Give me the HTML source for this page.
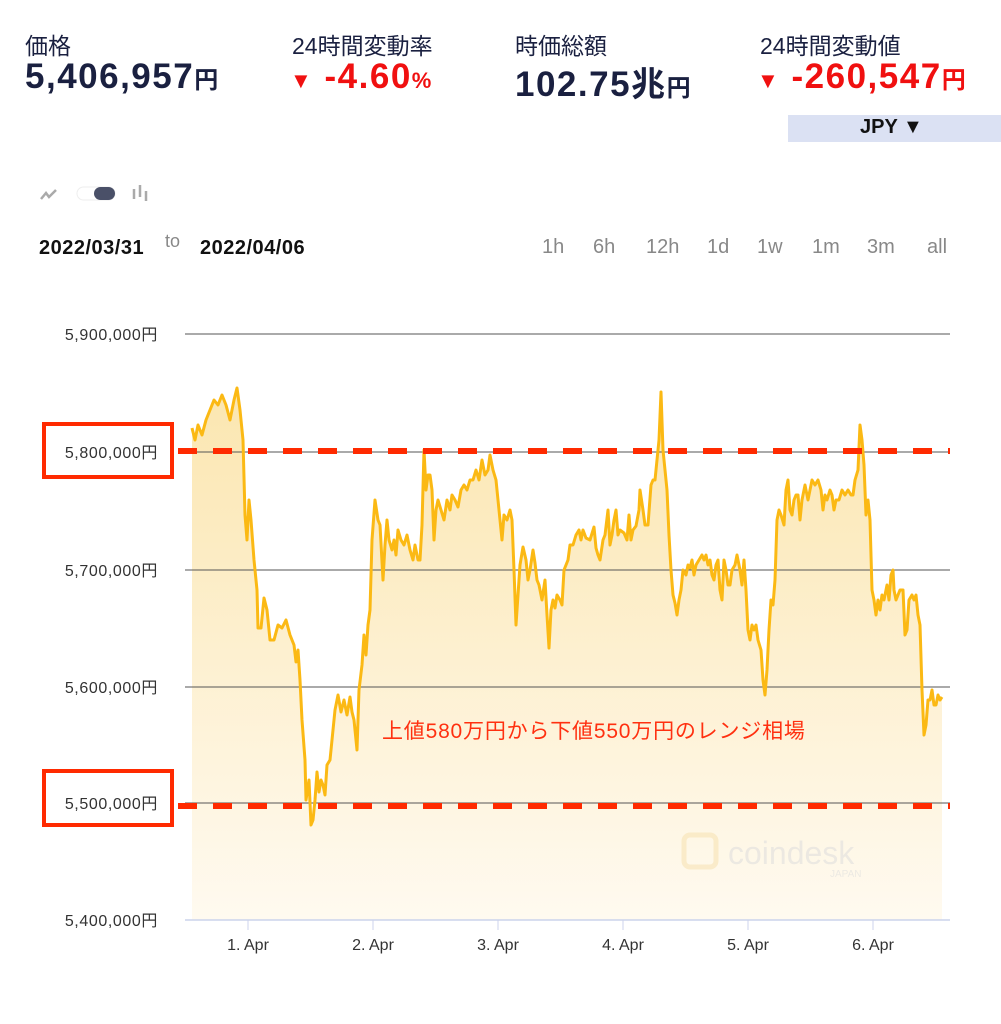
<!DOCTYPE html>
<html><head><meta charset="utf-8"><style>
body{margin:0;width:1001px;height:1024px;background:#fff;font-family:"Liberation Sans","Noto Sans CJK JP",sans-serif;overflow:hidden;position:relative}
.a{position:absolute;white-space:nowrap}
.lb{font-size:23px;color:#1a2040}
.v{font-size:35px;font-weight:bold;color:#1a2040;letter-spacing:1.5px}
.r{color:#f01010}
.sm{font-size:24px}
.tf{font-size:20px;color:#888}
</style></head><body>
<div class="a lb" style="left:25px;top:27px">価格</div>
<div class="a lb" style="left:292px;top:27px">24時間変動率</div>
<div class="a lb" style="left:515px;top:27px">時価総額</div>
<div class="a lb" style="left:760px;top:27px">24時間変動値</div>
<div class="a v" style="left:25px;top:57px">5,406,957<span class="sm">円</span></div>
<div class="a v r" style="left:290px;top:57px"><span style="font-size:22px">▼</span> -4.60<span style="font-size:22px">%</span></div>
<div class="a v" style="left:515px;top:57px">102.75<span style="font-size:34px">兆</span><span class="sm">円</span></div>
<div class="a v r" style="left:757px;top:57px"><span style="font-size:22px">▼</span> -260,547<span class="sm">円</span></div>
<div class="a" style="left:788px;top:115px;width:213px;height:27px;background:#dbe1f3"></div>
<div class="a" style="left:860px;top:116px;font-size:20px;font-weight:bold;color:#111">JPY ▼</div>
<svg class="a" style="left:38px;top:182px" width="120" height="24"><path d="M3 17 L8 11 L11 15 L18 8" stroke="#aaa" stroke-width="2.5" fill="none"/><rect x="39" y="5" width="38" height="13" rx="6.5" fill="#fff" stroke="#eee"/><rect x="56" y="5" width="21" height="13" rx="6.5" fill="#4a5068"/><g stroke="#aaa" stroke-width="2.5"><line x1="96" y1="7" x2="96" y2="17"/><line x1="102" y1="3" x2="102" y2="15"/><line x1="108" y1="9" x2="108" y2="19"/></g></svg>
<div class="a" style="left:39px;top:237px;font-size:20px;font-weight:bold;color:#111;letter-spacing:0.5px">2022/03/31</div>
<div class="a" style="left:165px;top:231px;font-size:18px;color:#888">to</div>
<div class="a" style="left:200px;top:237px;font-size:20px;font-weight:bold;color:#111;letter-spacing:0.5px">2022/04/06</div>
<div class="a tf" style="left:542px;top:236px">1h</div>
<div class="a tf" style="left:593px;top:236px">6h</div>
<div class="a tf" style="left:646px;top:236px">12h</div>
<div class="a tf" style="left:707px;top:236px">1d</div>
<div class="a tf" style="left:757px;top:236px">1w</div>
<div class="a tf" style="left:812px;top:236px">1m</div>
<div class="a tf" style="left:867px;top:236px">3m</div>
<div class="a tf" style="left:927px;top:236px">all</div>
<svg class="a" style="left:0;top:0" width="1001" height="1024">
<defs><linearGradient id="g" x1="0" y1="0" x2="0" y2="1"><stop offset="0" stop-color="#fbe6b0"/><stop offset="1" stop-color="#fffaf0"/></linearGradient><filter id="bl"><feGaussianBlur stdDeviation="2"/></filter></defs>
<g font-size="16" fill="#333" text-anchor="end" letter-spacing="0.6">
<text x="158" y="340">5,900,000円</text><text x="158" y="458">5,800,000円</text><text x="158" y="576">5,700,000円</text><text x="158" y="693">5,600,000円</text><text x="158" y="809">5,500,000円</text><text x="158" y="926">5,400,000円</text></g>
<path id="p" d="M192,428 L195,440 198,425 202,435 206,420 210,410 214,400 218,405 222,395 226,405 230,420 234,400 237,388 240,410 243,440 245,515 247,540 249,500 251,520 254,560 257,590 258,628 261,628 264,598 267,610 270,640 274,640 278,625 282,628 286,620 290,635 294,645 296,662 298,650 300,680 302,720 305,760 306,800 309,780 311,825 313,820 315,800 317,772 319,792 321,780 323,785 325,795 327,765 330,760 332,740 335,710 338,695 341,712 344,700 347,715 350,697 352,712 354,720 357,750 359,690 362,665 364,635 366,655 368,625 370,610 372,540 375,500 378,520 380,525 383,580 385,545 387,520 389,540 392,550 394,540 396,555 398,530 401,540 404,545 407,535 410,550 413,560 415,545 418,560 420,560 422,525 424,450 426,490 428,475 430,475 432,490 434,540 436,510 438,500 441,510 444,520 447,500 450,510 452,495 455,500 458,507 461,490 464,485 467,490 470,480 473,480 476,470 479,480 482,460 485,475 488,470 490,455 493,470 496,480 498,500 500,520 502,540 504,515 507,520 510,510 512,520 514,570 516,625 518,595 520,565 523,547 526,560 528,580 530,570 533,550 535,563 537,580 539,585 542,600 545,580 547,615 549,648 551,610 553,600 555,608 557,595 560,600 562,605 564,570 566,565 568,560 570,545 573,545 576,535 579,530 581,540 583,530 586,538 590,540 594,527 596,548 598,555 600,560 603,540 605,535 608,510 610,545 612,535 614,520 616,510 618,535 620,530 624,533 627,540 629,515 631,540 633,530 636,526 639,510 640,490 643,510 645,525 648,525 651,485 653,480 655,480 657,460 659,440 661,392 663,450 665,470 667,490 669,535 671,570 673,595 675,603 677,615 679,600 681,590 683,570 686,575 688,565 690,568 692,560 694,575 696,565 699,560 702,555 704,560 706,555 708,565 710,560 712,575 714,580 716,565 718,560 720,590 722,600 724,560 726,570 728,585 730,585 732,570 735,565 737,555 740,570 742,585 744,560 746,590 748,630 750,640 752,625 754,630 756,625 758,640 761,650 763,680 765,695 767,670 769,630 771,600 773,605 775,580 777,520 779,510 781,515 784,525 786,490 788,480 790,510 792,515 794,500 796,495 798,495 800,520 802,500 805,485 808,500 810,490 812,480 815,485 818,480 821,490 823,510 825,495 827,500 830,490 832,495 834,510 836,500 839,500 842,490 845,495 848,490 851,495 853,495 855,480 858,470 860,425 862,440 864,465 866,515 868,500 870,520 872,590 874,600 876,615 878,600 880,610 882,595 884,600 887,585 889,600 891,575 893,570 894,590 896,600 898,595 900,590 903,590 905,635 907,630 909,600 912,595 914,600 916,595 918,615 920,625 922,690 924,735 926,725 928,700 930,700 932,690 934,705 936,705 938,695 940,700 942,697" fill="none"/>
<path d="M192,920 L192,428 L195,440 198,425 202,435 206,420 210,410 214,400 218,405 222,395 226,405 230,420 234,400 237,388 240,410 243,440 245,515 247,540 249,500 251,520 254,560 257,590 258,628 261,628 264,598 267,610 270,640 274,640 278,625 282,628 286,620 290,635 294,645 296,662 298,650 300,680 302,720 305,760 306,800 309,780 311,825 313,820 315,800 317,772 319,792 321,780 323,785 325,795 327,765 330,760 332,740 335,710 338,695 341,712 344,700 347,715 350,697 352,712 354,720 357,750 359,690 362,665 364,635 366,655 368,625 370,610 372,540 375,500 378,520 380,525 383,580 385,545 387,520 389,540 392,550 394,540 396,555 398,530 401,540 404,545 407,535 410,550 413,560 415,545 418,560 420,560 422,525 424,450 426,490 428,475 430,475 432,490 434,540 436,510 438,500 441,510 444,520 447,500 450,510 452,495 455,500 458,507 461,490 464,485 467,490 470,480 473,480 476,470 479,480 482,460 485,475 488,470 490,455 493,470 496,480 498,500 500,520 502,540 504,515 507,520 510,510 512,520 514,570 516,625 518,595 520,565 523,547 526,560 528,580 530,570 533,550 535,563 537,580 539,585 542,600 545,580 547,615 549,648 551,610 553,600 555,608 557,595 560,600 562,605 564,570 566,565 568,560 570,545 573,545 576,535 579,530 581,540 583,530 586,538 590,540 594,527 596,548 598,555 600,560 603,540 605,535 608,510 610,545 612,535 614,520 616,510 618,535 620,530 624,533 627,540 629,515 631,540 633,530 636,526 639,510 640,490 643,510 645,525 648,525 651,485 653,480 655,480 657,460 659,440 661,392 663,450 665,470 667,490 669,535 671,570 673,595 675,603 677,615 679,600 681,590 683,570 686,575 688,565 690,568 692,560 694,575 696,565 699,560 702,555 704,560 706,555 708,565 710,560 712,575 714,580 716,565 718,560 720,590 722,600 724,560 726,570 728,585 730,585 732,570 735,565 737,555 740,570 742,585 744,560 746,590 748,630 750,640 752,625 754,630 756,625 758,640 761,650 763,680 765,695 767,670 769,630 771,600 773,605 775,580 777,520 779,510 781,515 784,525 786,490 788,480 790,510 792,515 794,500 796,495 798,495 800,520 802,500 805,485 808,500 810,490 812,480 815,485 818,480 821,490 823,510 825,495 827,500 830,490 832,495 834,510 836,500 839,500 842,490 845,495 848,490 851,495 853,495 855,480 858,470 860,425 862,440 864,465 866,515 868,500 870,520 872,590 874,600 876,615 878,600 880,610 882,595 884,600 887,585 889,600 891,575 893,570 894,590 896,600 898,595 900,590 903,590 905,635 907,630 909,600 912,595 914,600 916,595 918,615 920,625 922,690 924,735 926,725 928,700 930,700 932,690 934,705 936,705 938,695 940,700 942,697 L942,920 Z" fill="url(#g)"/>
<g stroke="#555" stroke-width="1"><line x1="185" y1="334" x2="950" y2="334"/><line x1="185" y1="452" x2="950" y2="452"/><line x1="185" y1="570" x2="950" y2="570"/><line x1="185" y1="687" x2="950" y2="687"/><line x1="185" y1="803" x2="950" y2="803"/></g>
<line x1="185" y1="920" x2="950" y2="920" stroke="#ccd3ec" stroke-width="1.5"/>
<g stroke="#ccd3ec"><line x1="248" y1="920" x2="248" y2="930"/><line x1="373" y1="920" x2="373" y2="930"/><line x1="498" y1="920" x2="498" y2="930"/><line x1="623" y1="920" x2="623" y2="930"/><line x1="748" y1="920" x2="748" y2="930"/><line x1="873" y1="920" x2="873" y2="930"/></g>
<use href="#p" stroke="#fbb914" stroke-width="3" stroke-linejoin="round"/>
<g stroke-dasharray="19 16" stroke-width="6"><line x1="178" y1="460" x2="950" y2="460" stroke="#bbb" opacity="0.6" filter="url(#bl)"/><line x1="178" y1="815" x2="950" y2="815" stroke="#bbb" opacity="0.6" filter="url(#bl)"/><line x1="178" y1="451" x2="950" y2="451" stroke="#ff2a00"/><line x1="178" y1="806" x2="950" y2="806" stroke="#ff2a00"/></g>
<rect x="44" y="424" width="128" height="53" fill="none" stroke="#ff2a00" stroke-width="4"/>
<rect x="44" y="771" width="128" height="54" fill="none" stroke="#ff2a00" stroke-width="4"/>
<g font-size="16" fill="#333" text-anchor="middle"><text x="248" y="950">1. Apr</text><text x="373" y="950">2. Apr</text><text x="498" y="950">3. Apr</text><text x="623" y="950">4. Apr</text><text x="748" y="950">5. Apr</text><text x="873" y="950">6. Apr</text></g>
<text x="382" y="738" font-size="21" fill="#ff3010" letter-spacing="0.8">上値580万円から下値550万円のレンジ相場</text>
<g opacity="0.55"><rect x="684" y="835" width="32" height="32" rx="6" fill="none" stroke="#f7e2b0" stroke-width="5"/><text x="728" y="864" font-size="32" fill="#ddd">coindesk</text><text x="830" y="877" font-size="10" fill="#ddd">JAPAN</text></g>
</svg>
</body></html>
